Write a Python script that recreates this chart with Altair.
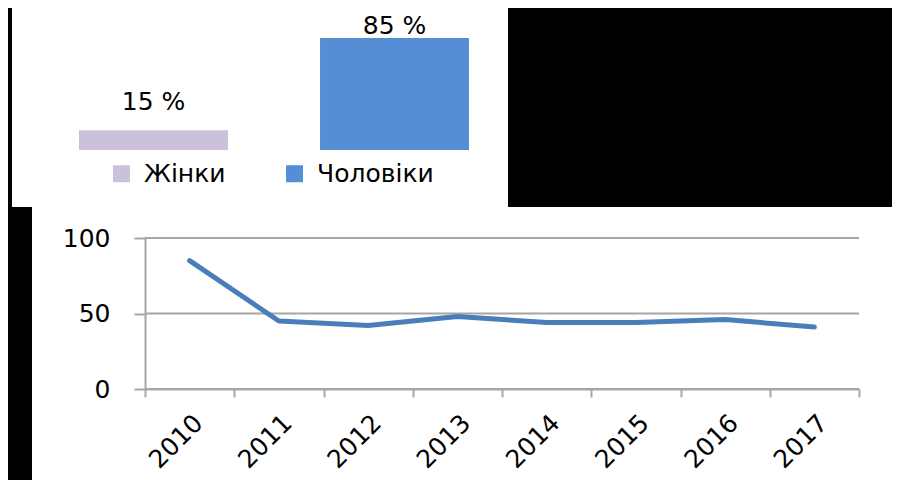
import altair as alt
import pandas as pd

# ---- data ----
years = ["2010", "2011", "2012", "2013", "2014", "2015", "2016", "2017"]
values = [85, 45, 42, 48, 44, 44, 46, 41]
y_ticks = [0, 50, 100]

groups = ["Жінки", "Чоловіки"]
shares = [15, 85]
share_labels = [f"{v} %" for v in shares]
group_colors = ["#CCC1DA", "#558ED5"]

FONT = "DejaVu Sans"
FS = 25
GRAY = "#A6A6A6"
LINE_BLUE = "#4A7EBB"

line_df = pd.DataFrame({"year": years, "value": values})
grid_df = pd.DataFrame({"tick": y_ticks})
bar_df = pd.DataFrame({"group": groups, "share": shares, "label": share_labels})

# ---- white background panels (decoration) ----
panel = alt.Data(values=[{}])
top_panel = alt.Chart(panel).mark_rect(color="white").encode(
    x=alt.value(-133), x2=alt.value(363), y=alt.value(-240), y2=alt.value(-31))
bottom_panel = alt.Chart(panel).mark_rect(color="white").encode(
    x=alt.value(-113), x2=alt.value(770), y=alt.value(-31), y2=alt.value(260))

# ---- line chart ----
y_axis = alt.Axis(title=None, orient="left", values=y_ticks, grid=False,
                  tickSize=11, tickWidth=2, tickColor=GRAY,
                  domainColor=GRAY, domainWidth=2,
                  labelFont=FONT, labelFontSize=FS, labelColor="black",
                  labelPadding=24, zindex=1)
y_scale = alt.Scale(domain=[0, 100])

x_line = alt.X("year:O", sort=years,
               scale=alt.Scale(type="band", paddingInner=0, paddingOuter=0),
               axis=alt.Axis(title=None, orient="bottom", labelAngle=-45,
                             tickBand="extent", tickSize=8, tickWidth=2,
                             tickColor=GRAY, domainColor=GRAY, domainWidth=2,
                             labelFont=FONT, labelFontSize=FS,
                             labelColor="black", labelPadding=13,
                             grid=False, zindex=1))

grid = alt.Chart(grid_df).mark_rule(color=GRAY, strokeWidth=2).encode(
    y=alt.Y("tick:Q", scale=y_scale, axis=y_axis))
line = alt.Chart(line_df).mark_line(color=LINE_BLUE, strokeWidth=5,
                                    strokeCap="round", strokeJoin="round").encode(
    x=x_line, y=alt.Y("value:Q", scale=y_scale, axis=y_axis))
line_part = alt.layer(grid, line)

# ---- bar chart ----
x_bar = alt.X("group:N", sort=groups,
              scale=alt.Scale(type="band", range=[-66, 324],
                              paddingInner=0.382, paddingOuter=0),
              axis=None)
y_bar = alt.Y("share:Q", scale=alt.Scale(domain=[0, 100], range=[-88, -219.8]),
              axis=None)

bars = alt.Chart(bar_df).mark_bar().encode(
    x=x_bar, y=y_bar,
    color=alt.Color("group:N", sort=groups,
                    scale=alt.Scale(domain=groups, range=group_colors),
                    legend=alt.Legend(title=None, orient="none", legendX=-36,
                                      legendY=-77, direction="horizontal",
                                      symbolType="square", symbolSize=289,
                                      symbolStrokeWidth=0, labelFont=FONT,
                                      labelFontSize=FS, labelColor="black",
                                      labelOffset=10, columnPadding=56,
                                      padding=0, zindex=1)))

label_base = alt.Chart(bar_df).encode(x=x_bar, y=y_bar, text="label:N")
labels_low = label_base.transform_filter("datum.share < 50").mark_text(
    font=FONT, fontSize=FS, baseline="alphabetic", color="black", dy=-20)
labels_high = label_base.transform_filter("datum.share >= 50").mark_text(
    font=FONT, fontSize=FS, baseline="alphabetic", color="black", dy=-4)

bar_part = alt.layer(bars, labels_low, labels_high)

chart = alt.layer(top_panel, bottom_panel, line_part, bar_part).resolve_scale(
    x="independent", y="independent"
).properties(
    width=714, height=151, background="black",
    padding={"left": 137, "top": 230, "right": 33, "bottom": 91},
    autosize=alt.AutoSizeParams(type="none"),
).configure_view(stroke=None)

chart.save("out.html", embed_options={"renderer": "svg", "actions": False})
